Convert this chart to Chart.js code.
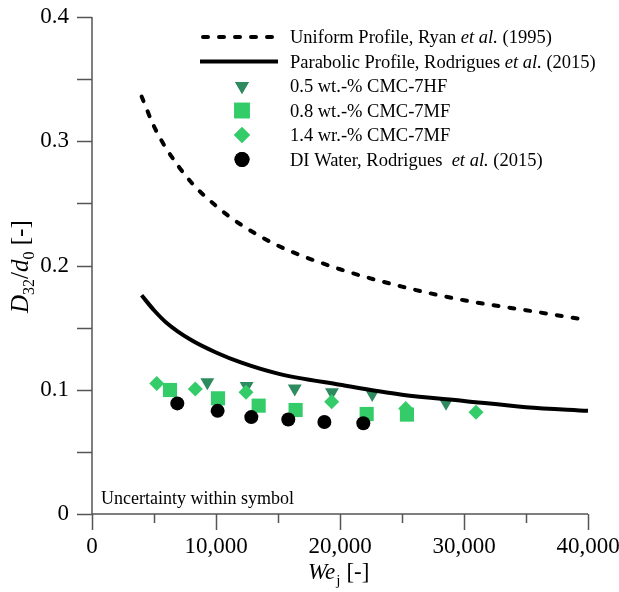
<!DOCTYPE html>
<html lang="en">
  <head>
    <meta charset="utf-8" />
    <title>Sauter mean diameter vs jet Weber number</title>
    <style>
      body { margin: 0; background: #fff; }
    </style>
  </head>
  <body>
    <canvas id="dropChart" width="619" height="592"></canvas>
    <script src="https://cdn.jsdelivr.net/npm/chart.js@4.4.1/dist/chart.umd.min.js"></script>
    <script>
      // Model curves, sampled along We_j
      const curveWe = [4000, 5000, 6000, 8000, 10000, 12000, 15000, 20000, 25000, 30000, 35000, 40000];
      const uniformD32 = [0.336, 0.312, 0.294, 0.267, 0.248, 0.233, 0.216, 0.197, 0.183, 0.172, 0.164, 0.156];
      const parabolicD32 = [0.176, 0.164, 0.154, 0.140, 0.130, 0.122, 0.113, 0.104, 0.096, 0.091, 0.086, 0.083];

      // Measurements
      const hf05We = [9300, 12470, 16350, 19350, 22600, 28550];
      const hf05D32 = [0.106, 0.103, 0.101, 0.098, 0.0966, 0.0896];
      const mf08We = [6290, 10160, 13440, 16420, 22150, 25400];
      const mf08D32 = [0.0998, 0.0931, 0.0872, 0.0837, 0.0805, 0.080];
      const mf14We = [5220, 8330, 12420, 19330, 25300, 30970];
      const mf14D32 = [0.105, 0.1006, 0.098, 0.0904, 0.085, 0.0819];
      const waterWe = [6880, 10130, 12850, 15830, 18740, 21880];
      const waterD32 = [0.089, 0.083, 0.078, 0.076, 0.074, 0.073];

      const xTicks = [0, 10000, 20000, 30000, 40000];
      const yTicks = [0, 0.1, 0.2, 0.3, 0.4];

      const darkGreen = '#2e8b5f';
      const lightGreen = '#33cc69';
      const serif = '"Liberation Serif", "Times New Roman", serif';

      const pts = (xs, ys) => xs.map((x, i) => ({ x, y: ys[i] }));

      const legendRows = [
        { kind: 'dash', parts: [['Uniform Profile, Ryan ', false], ['et al.', true], [' (1995)', false]] },
        { kind: 'line', parts: [['Parabolic Profile, Rodrigues ', false], ['et al.', true], [' (2015)', false]] },
        { kind: 'point', style: 'triangle', rotation: 180, radius: 8, color: darkGreen, parts: [['0.5 wt.-% CMC-7HF', false]] },
        { kind: 'point', style: 'rect', rotation: 0, radius: 11, color: lightGreen, parts: [['0.8 wt.-% CMC-7MF', false]] },
        { kind: 'point', style: 'rectRot', rotation: 0, radius: 8, color: lightGreen, parts: [['1.4 wr.-% CMC-7MF', false]] },
        { kind: 'point', style: 'circle', rotation: 0, radius: 7.5, color: '#000', parts: [['DI Water, Rodrigues  ', false], ['et al.', true], [' (2015)', false]] },
      ];

      function drawParts(ctx, parts, x, y, size) {
        for (const [text, italic] of parts) {
          ctx.font = `${italic ? 'italic ' : ''}${size}px ${serif}`;
          ctx.fillText(text, x, y);
          x += ctx.measureText(text).width;
        }
        return x;
      }

      // axis lines, tick marks, titles, legend and note
      const decorations = {
        id: 'decorations',
        afterDraw(chart) {
          const { ctx, chartArea: a, scales } = chart;
          const xs = scales.x, ys = scales.y;
          ctx.save();
          ctx.strokeStyle = '#555';
          ctx.lineWidth = 1.5;
          ctx.beginPath();
          ctx.moveTo(a.left, a.top);
          ctx.lineTo(a.left, a.bottom);
          ctx.moveTo(a.left, a.bottom);
          ctx.lineTo(a.right, a.bottom);
          for (let v = 0; v <= 0.4001; v += 0.05) {
            const py = Math.round(ys.getPixelForValue(v)) + 0.5;
            ctx.moveTo(a.left - 15, py);
            ctx.lineTo(a.left, py);
          }
          for (let v = 0; v <= 40000; v += 5000) {
            const px = Math.round(xs.getPixelForValue(v)) + 0.5;
            ctx.moveTo(px, a.bottom);
            ctx.lineTo(px, a.bottom + (v % 10000 === 0 ? 16 : 9));
          }
          ctx.stroke();

          ctx.fillStyle = '#000';
          ctx.textBaseline = 'alphabetic';

          // x title: We_j [-]
          let tx = 308, ty = 579;
          ctx.font = `italic 23px ${serif}`;
          ctx.fillText('We', tx, ty);
          tx += ctx.measureText('We').width + 1;
          ctx.font = `15px ${serif}`;
          ctx.fillText('j', tx, ty + 6);
          tx += ctx.measureText('j').width + 6;
          ctx.font = `23px ${serif}`;
          ctx.fillText('[-]', tx, ty);

          // y title: D32/d0 [-]
          ctx.save();
          ctx.translate(28, 313);
          ctx.rotate(-Math.PI / 2);
          let ux = 0;
          const seg = (text, font, dy) => {
            ctx.font = font;
            ctx.fillText(text, ux, dy);
            ux += ctx.measureText(text).width;
          };
          seg('D', `italic 25px ${serif}`, 0);
          seg('32', `16px ${serif}`, 6);
          seg('/', `25px ${serif}`, 0);
          seg('d', `italic 25px ${serif}`, 0);
          seg('0', `16px ${serif}`, 6);
          seg(' [-]', `25px ${serif}`, 0);
          ctx.restore();

          // note
          ctx.font = `18px ${serif}`;
          ctx.fillText('Uncertainty within symbol', 101, 504);

          // legend
          legendRows.forEach((row, i) => {
            const cy = 37 + i * 24.5;
            if (row.kind === 'dash' || row.kind === 'line') {
              ctx.save();
              ctx.strokeStyle = '#000';
              ctx.lineWidth = 4;
              ctx.lineCap = row.kind === 'dash' ? 'round' : 'butt';
              ctx.setLineDash(row.kind === 'dash' ? [5, 11] : []);
              ctx.beginPath();
              ctx.moveTo(row.kind === 'dash' ? 203 : 200, cy);
              ctx.lineTo(278, cy);
              ctx.stroke();
              ctx.restore();
            } else {
              ctx.fillStyle = row.color;
              Chart.helpers.drawPoint(ctx, { pointStyle: row.style, rotation: row.rotation, radius: row.radius, borderWidth: 0 }, 242, cy);
              ctx.fill();
            }
            ctx.fillStyle = '#000';
            drawParts(ctx, row.parts, 290, cy + 6, 18.5);
          });
          ctx.restore();
        },
      };

      new Chart(document.getElementById('dropChart'), {
        type: 'scatter',
        data: {
          datasets: [
            {
              label: 'Uniform Profile',
              data: pts(curveWe, uniformD32),
              showLine: true,
              borderColor: '#000',
              borderWidth: 4,
              borderDash: [5, 11],
              borderCapStyle: 'round',
              cubicInterpolationMode: 'monotone',
              pointRadius: 0,
            },
            {
              label: 'Parabolic Profile',
              data: pts(curveWe, parabolicD32),
              showLine: true,
              borderColor: '#000',
              borderWidth: 4,
              cubicInterpolationMode: 'monotone',
              pointRadius: 0,
            },
            {
              label: 'DI Water',
              data: pts(waterWe, waterD32),
              pointStyle: 'circle',
              pointRadius: 7,
              backgroundColor: '#000',
              borderWidth: 0,
            },
            {
              label: '0.8 wt.-% CMC-7MF',
              data: pts(mf08We, mf08D32),
              pointStyle: 'rect',
              pointRadius: 10,
              backgroundColor: lightGreen,
              borderWidth: 0,
            },
            {
              label: '1.4 wr.-% CMC-7MF',
              data: pts(mf14We, mf14D32),
              pointStyle: 'rectRot',
              pointRadius: 7.5,
              backgroundColor: lightGreen,
              borderWidth: 0,
            },
            {
              label: '0.5 wt.-% CMC-7HF',
              data: pts(hf05We, hf05D32),
              pointStyle: 'triangle',
              rotation: 180,
              pointRadius: 8,
              backgroundColor: darkGreen,
              borderWidth: 0,
            },
          ],
        },
        options: {
          responsive: false,
          animation: false,
          devicePixelRatio: 1,
          layout: { padding: { top: 17, right: 31 } },
          plugins: { legend: { display: false }, tooltip: { enabled: false } },
          scales: {
            x: {
              type: 'linear',
              min: 0,
              max: 40000,
              afterBuildTicks: (s) => { s.ticks = xTicks.map((value) => ({ value })); },
              afterFit: (s) => { s.height = 78; s.paddingRight = 0; s.paddingLeft = 0; },
              grid: { display: false, tickLength: 16 },
              border: { display: false },
              ticks: {
                color: '#000',
                padding: 3,
                maxRotation: 0,
                font: { family: serif, size: 23 },
                callback: (v) => v.toLocaleString('en-US'),
              },
            },
            y: {
              min: 0,
              max: 0.4,
              afterBuildTicks: (s) => { s.ticks = yTicks.map((value) => ({ value })); },
              afterFit: (s) => { s.width = 92; s.paddingTop = 0; s.paddingBottom = 0; },
              grid: { display: false, tickLength: 15 },
              border: { display: false },
              ticks: {
                color: '#000',
                padding: 8,
                font: { family: serif, size: 23 },
                callback: (v) => String(+v.toFixed(1)),
              },
            },
          },
        },
        plugins: [decorations],
      });
    </script>
  </body>
</html>
